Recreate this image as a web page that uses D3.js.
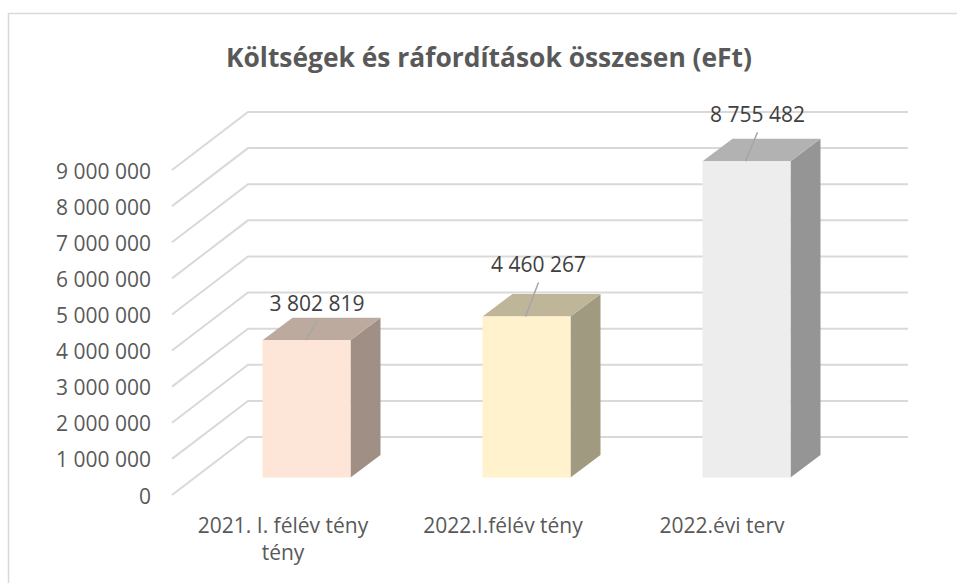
<!DOCTYPE html>
<html><head><meta charset="utf-8">
<script src="https://cdn.jsdelivr.net/npm/d3@7"></script>
<style>html,body{margin:0;padding:0;background:#fff}svg{display:block}text{font-family:"Open Sans",sans-serif}</style>
</head><body><svg id="c" width="957" height="583"></svg>
<script>
const categories = ["2021. I. félév tény", "2022.I.félév tény", "2022.évi terv"];
const values = [3802819, 4460267, 8755482];
const valueLabels = ["3 802 819", "4 460 267", "8 755 482"];
const tickValues = [0,1000000,2000000,3000000,4000000,5000000,6000000,7000000,8000000,9000000];
const tickLabels = ["0","1 000 000","2 000 000","3 000 000","4 000 000","5 000 000","6 000 000","7 000 000","8 000 000","9 000 000"];
const faceColors = ["#fde5d8","#fff2cc","#ededed"];
const topColors = ["#bcaa9e","#bfb699","#b2b2b2"];
const sideColors = ["#a08f84","#a09a80","#959595"];

const svg=d3.select("#c");
const txt="#595959";
svg.append("path").attr("d","M8.5,583V13.5H957").attr("fill","none").attr("stroke","#d9d9d9").attr("stroke-width",1.5);
svg.append("text").attr("x",489).attr("y",67).attr("text-anchor","middle").attr("font-size",26.4).attr("font-weight",700).attr("fill",txt).text("Költségek és ráfordítások összesen (eFt)");

// 3D layout
const floorDx=76, floorDy=-58, barDx=30, barDy=-22.5, barInset=17.5;
const y=d3.scaleLinear().domain([0,9000000]).range([495,170]);
const x=d3.scaleBand().domain(categories).range([196.5,856.5]).paddingInner(0.6).paddingOuter(0.3);
const wallL=172, wallR=832;
const grid=svg.append("g").attr("fill","none").attr("stroke","#d9d9d9").attr("stroke-width",2);
tickValues.forEach(v=>{
  grid.append("polyline").attr("points",[[wallL,y(v)],[wallL+floorDx,y(v)+floorDy],[wallR+floorDx,y(v)+floorDy]].join(" "));
});
const axisG=svg.append("g").attr("transform","translate(151,0.7)")
  .call(d3.axisLeft(y).tickValues(tickValues).tickSize(0).tickPadding(0).tickFormat((d,i)=>tickLabels[i]));
axisG.select(".domain").remove();
axisG.selectAll("text").attr("font-size",21).attr("fill",txt).style("font-family",'"Open Sans",sans-serif').attr("dy","0.35em");

// bars
const base=y(0)-barInset;
const h=v=>y(0)-y(v);
const bars=svg.append("g").selectAll("g").data(values).join("g");
bars.each(function(v,i){
  const g=d3.select(this), x0=x(categories[i]), x1=x0+x.bandwidth(), t=base-h(v);
  g.append("polygon").attr("fill",sideColors[i]).attr("points",[[x1,t],[x1+barDx,t+barDy],[x1+barDx,base+barDy],[x1,base]].join(" "));
  g.append("polygon").attr("fill",topColors[i]).attr("points",[[x0,t],[x0+barDx,t+barDy],[x1+barDx,t+barDy],[x1,t]].join(" "));
  g.append("rect").attr("x",x0).attr("y",t).attr("width",x.bandwidth()).attr("height",base-t).attr("fill",faceColors[i]);
});
// value labels with leader lines
const labelRise=[29,44,39], labelShift=[10.5,12,11];
bars.each(function(v,i){
  const g=d3.select(this), cx=x(categories[i])+x.bandwidth()/2, t=base-h(v);
  const lx=cx+labelShift[i], by=t-labelRise[i];
  g.append("line").attr("x1",cx-1).attr("y1",t).attr("x2",lx).attr("y2",by+10).attr("stroke","#a6a6a6").attr("stroke-width",1.5);
  g.append("text").attr("x",lx).attr("y",by).attr("text-anchor","middle").attr("font-size",21).attr("fill","#404040").text(valueLabels[i]);
});
// category labels
const catCx=[283,503,722];
svg.append("g").selectAll("text").data(categories).join("text").attr("x",(d,i)=>catCx[i]).attr("y",533).attr("text-anchor","middle").attr("font-size",21).attr("fill",txt).text(d=>d);
svg.append("text").attr("x",283).attr("y",560).attr("text-anchor","middle").attr("font-size",21).attr("fill",txt).text("tény");
</script></body></html>
